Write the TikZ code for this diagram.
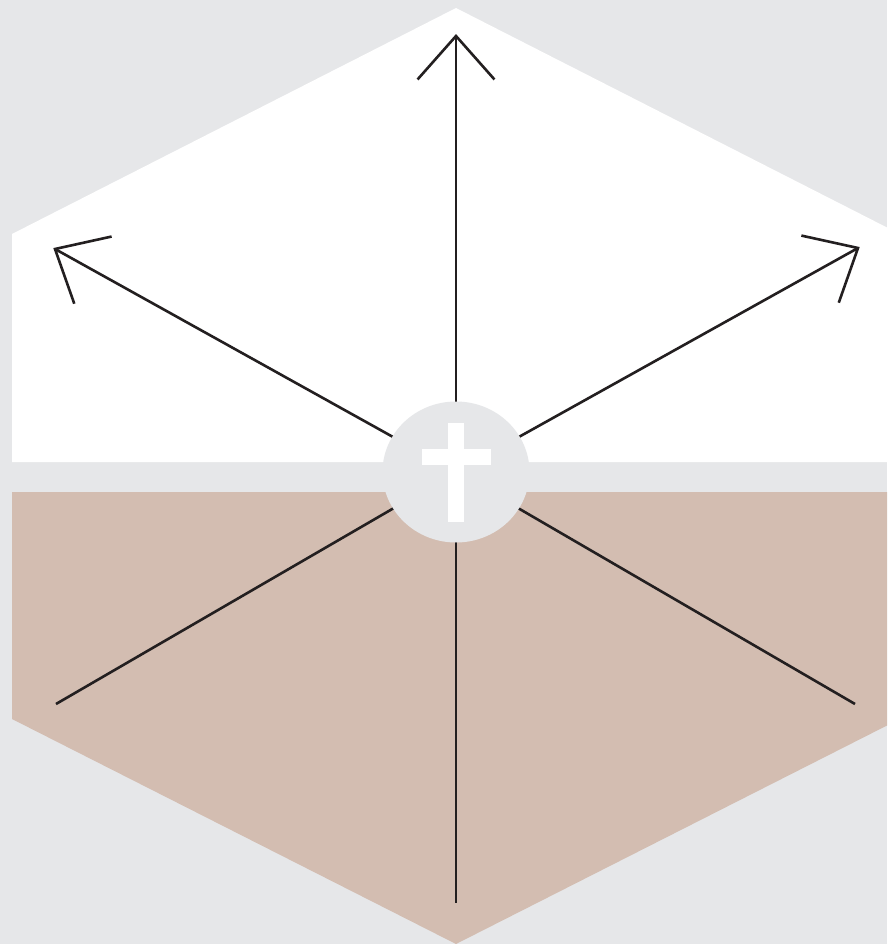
\documentclass[tikz,border=0pt]{standalone}
\usetikzlibrary{calc,shapes.geometric}
\definecolor{bggray}{HTML}{E6E7E9}
\definecolor{hextan}{HTML}{D3BDB1}
\definecolor{ink}{HTML}{231F20}
\begin{document}
\begin{tikzpicture}[x=1pt,y=-1pt,
  spoke/.style={draw=ink,line width=2.6pt},
  barb/.style={draw=ink,line width=2.6pt,line join=miter,miter limit=20},
  hub/.style={ellipse,fill=bggray,minimum width=147pt,minimum height=141pt,inner sep=0pt}]
\fill[bggray] (0,0) rectangle (887,944);
\useasboundingbox (0,0) rectangle (887,944);
% upper white half
\fill[white] (12,462) -- (12,234) -- (456,8) -- (887,227.5) -- (887,462) -- cycle;
% lower tan half
\fill[hextan] (12,492) -- (12,719) -- (456,944) -- (887,725.5) -- (887,492) -- cycle;
% coordinates
\coordinate (o) at (456,472);
\coordinate (tN) at (456,36);
\coordinate (tW) at (55,249);
\coordinate (tE) at (858,248);
\coordinate (eSW) at (56,704);
\coordinate (eS) at (456,903);
\coordinate (eSE) at (855,704);
% spokes
\draw[spoke] (o) -- (tN);
\draw[spoke] (o) -- (tW);
\draw[spoke] (o) -- (tE);
\draw[spoke] (o) -- (eSW);
\draw[spoke] (o) -- (eS);
\draw[spoke] (o) -- (eSE);
% arrow heads
\foreach \t in {tN,tW,tE}{
  \draw[barb] ($(\t)!58pt!41.5:(o)$) -- (\t) -- ($(\t)!58pt!-41.5:(o)$);
}
% hub
\node[hub] (hubnode) at (o) {};
\fill[white] (448,423) rectangle (464,522);
\fill[white] (422,449) rectangle (491,465);
\end{tikzpicture}
\end{document}
